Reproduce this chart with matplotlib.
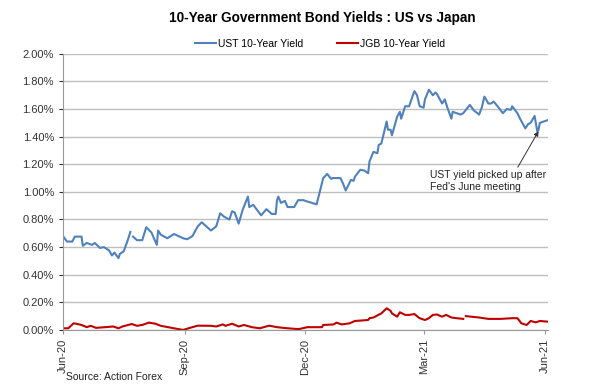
import numpy as np
import pandas as pd
import matplotlib
matplotlib.use("Agg")
import matplotlib.pyplot as plt
import matplotlib.dates as mdates
from matplotlib.ticker import FuncFormatter

plt.rcParams['font.family'] = ['Liberation Sans', 'DejaVu Sans']

# UST 10-year yield (%)
ust_dates = ["2020-06-22", "2020-06-25", "2020-06-29", "2020-07-01", "2020-07-06", "2020-07-07",
             "2020-07-10", "2020-07-14", "2020-07-16", "2020-07-20", "2020-07-23", "2020-07-27",
             "2020-07-29", "2020-07-31", "2020-08-03", "2020-08-04", "2020-08-07", "2020-08-10",
             "2020-08-12", "2020-08-13", "2020-08-14", "2020-08-17", "2020-08-21", "2020-08-24",
             "2020-08-28", "2020-09-01", "2020-09-02", "2020-09-04", "2020-09-09", "2020-09-14",
             "2020-09-21", "2020-09-24", "2020-09-28", "2020-10-02", "2020-10-05", "2020-10-12",
             "2020-10-16", "2020-10-19", "2020-10-22", "2020-10-26", "2020-10-28", "2020-10-30",
             "2020-11-02", "2020-11-05", "2020-11-09", "2020-11-10", "2020-11-13", "2020-11-19",
             "2020-11-23", "2020-11-27", "2020-11-30", "2020-12-01", "2020-12-02", "2020-12-04",
             "2020-12-07", "2020-12-09", "2020-12-14", "2020-12-17", "2020-12-21", "2020-12-24",
             "2020-12-31", "2021-01-04", "2021-01-05", "2021-01-08", "2021-01-11", "2021-01-12",
             "2021-01-18", "2021-01-20", "2021-01-22", "2021-01-26", "2021-01-28", "2021-01-29",
             "2021-02-02", "2021-02-05", "2021-02-08", "2021-02-09", "2021-02-12", "2021-02-15",
             "2021-02-16", "2021-02-18", "2021-02-19", "2021-02-22", "2021-02-23", "2021-02-25",
             "2021-02-26", "2021-03-02", "2021-03-04", "2021-03-05", "2021-03-08", "2021-03-11",
             "2021-03-15", "2021-03-17", "2021-03-19", "2021-03-22", "2021-03-23", "2021-03-26",
             "2021-03-29", "2021-03-31", "2021-04-01", "2021-04-05", "2021-04-07", "2021-04-09",
             "2021-04-12", "2021-04-13", "2021-04-16", "2021-04-19", "2021-04-21", "2021-04-26",
             "2021-04-29", "2021-05-03", "2021-05-05", "2021-05-07", "2021-05-10", "2021-05-12",
             "2021-05-14", "2021-05-17", "2021-05-21", "2021-05-24", "2021-05-27", "2021-05-28",
             "2021-06-01", "2021-06-03", "2021-06-07", "2021-06-09", "2021-06-11", "2021-06-14",
             "2021-06-16", "2021-06-17", "2021-06-18", "2021-06-21", "2021-06-24"]
ust_values = [0.68, 0.64, 0.64, 0.676, 0.676, 0.61,
              0.63, 0.616, 0.63, 0.594, 0.60, 0.575,
              0.54, 0.56, 0.52, 0.55, 0.57, 0.65,
              0.71, np.nan, 0.676, 0.65, 0.65, 0.744,
              0.705, 0.616, 0.72, 0.69, 0.664, 0.695,
              0.664, 0.657, 0.68, 0.75, 0.78, 0.72,
              0.75, 0.845, 0.82, 0.80, 0.86, 0.85,
              0.77, 0.87, 0.966, 0.89, 0.906, 0.83,
              0.875, 0.84, 0.84, 0.94, 0.966, 0.92,
              0.935, 0.89, 0.89, 0.94, 0.94, 0.93,
              0.91, 1.06, 1.10, 1.13, 1.094, 1.10,
              1.10, 1.06, 1.01, 1.087, 1.08, 1.11,
              1.16, 1.155, 1.135, 1.22, 1.29, 1.28,
              1.34, 1.35, 1.39, 1.51, 1.45, 1.45,
              1.41, 1.546, 1.58, 1.53, 1.62, 1.62,
              1.73, 1.70, 1.62, 1.61, 1.67, 1.74,
              1.70, 1.72, 1.71, 1.64, 1.67, 1.61,
              1.53, 1.58, 1.57, 1.56, 1.57, 1.63,
              1.59, 1.56, 1.61, 1.69, 1.64, 1.64,
              1.654, 1.62, 1.57, 1.60, 1.594, 1.62,
              1.57, 1.53, 1.46, 1.49, 1.50, 1.55,
              1.44, 1.45, 1.50, 1.51, 1.52]

# JGB 10-year yield (%)
jgb_dates = ["2020-06-22", "2020-06-26", "2020-06-30", "2020-07-02", "2020-07-06", "2020-07-10",
             "2020-07-13", "2020-07-17", "2020-07-24", "2020-07-30", "2020-08-03", "2020-08-06",
             "2020-08-13", "2020-08-17", "2020-08-21", "2020-08-26", "2020-08-31", "2020-09-04",
             "2020-09-14", "2020-09-21", "2020-09-25", "2020-10-02", "2020-10-12", "2020-10-16",
             "2020-10-21", "2020-10-23", "2020-10-28", "2020-11-02", "2020-11-06", "2020-11-12",
             "2020-11-18", "2020-11-25", "2020-12-01", "2020-12-09", "2020-12-16", "2020-12-18",
             "2020-12-24", "2021-01-04", "2021-01-05", "2021-01-13", "2021-01-15", "2021-01-19",
             "2021-01-25", "2021-01-29", "2021-02-08", "2021-02-09", "2021-02-12", "2021-02-18",
             "2021-02-22", "2021-02-25", "2021-02-26", "2021-03-02", "2021-03-04", "2021-03-08",
             "2021-03-11", "2021-03-15", "2021-03-19", "2021-03-23", "2021-03-26", "2021-03-29",
             "2021-04-01", "2021-04-05", "2021-04-08", "2021-04-12", "2021-04-16", "2021-04-21",
             "2021-04-22", "2021-04-23", "2021-05-03", "2021-05-10", "2021-05-19", "2021-05-28",
             "2021-06-01", "2021-06-04", "2021-06-08", "2021-06-11", "2021-06-15", "2021-06-18",
             "2021-06-24"]
jgb_values = [0.012, 0.012, 0.048, 0.045, 0.036, 0.02,
              0.03, 0.015, 0.02, 0.025, 0.012, 0.025,
              0.043, 0.03, 0.036, 0.053, 0.045, 0.03,
              0.012, 0.0, 0.012, 0.031, 0.03, 0.025,
              0.04, 0.03, 0.045, 0.025, 0.036, 0.02,
              0.012, 0.031, 0.02, 0.012, 0.007, 0.007,
              0.02, 0.02, 0.036, 0.04, 0.053, 0.04,
              0.048, 0.065, 0.072, 0.085, 0.09, 0.12,
              0.157, 0.138, 0.12, 0.096, 0.128, 0.109,
              0.109, 0.115, 0.085, 0.072, 0.085, 0.109,
              0.112, 0.096, 0.109, 0.09, 0.085, 0.08,
              np.nan, 0.10, 0.09, 0.08, 0.08, 0.085,
              0.085, 0.048, 0.036, 0.065, 0.055, 0.065,
              0.06]

tick_dates = ["2020-06-22", "2020-09-22", "2020-12-22", "2021-03-22", "2021-06-22"]
y_ticks = np.arange(0, 2.01, 0.2)

ust = pd.Series(ust_values, index=pd.to_datetime(ust_dates))
jgb = pd.Series(jgb_values, index=pd.to_datetime(jgb_dates))

fig = plt.figure(figsize=(6, 3.9), dpi=100)
ax = fig.add_axes([0.105, 0.154, 0.808, 0.708])

ax.plot(ust.index, ust.values, color="#4f81bd", lw=1.5, label="UST 10-Year Yield")
ax.plot(jgb.index, jgb.values, color="#c00000", lw=1.5, label="JGB 10-Year Yield")

ax.set_ylim(0, 2.0)
ax.set_xlim(pd.Timestamp("2020-06-22"), pd.Timestamp("2021-06-24"))
ax.set_yticks(y_ticks)
ax.yaxis.set_major_formatter(FuncFormatter(lambda v, p: f"{v:.2f}%"))
ax.set_xticks(pd.to_datetime(tick_dates))
ax.xaxis.set_major_formatter(mdates.DateFormatter("%b-%y"))
plt.setp(ax.get_xticklabels(), rotation=90)
ax.tick_params(axis="both", labelsize=8, colors="#333333", length=3, width=0.8)
ax.tick_params(axis="y", length=3, direction="out")
ax.tick_params(axis="x", direction="out", color="#999999")

ax.grid(axis="y", color="#bfbfbf", lw=1)
ax.set_axisbelow(True)
for s in ["top", "right"]:
    ax.spines[s].set_visible(False)
ax.spines["left"].set_color("#999999")
ax.spines["bottom"].set_color("#999999")

fig.text(0.537, 0.955, "10-Year Government Bond Yields : US vs Japan",
         ha="center", va="center", fontsize=9.8, fontweight="bold")
ax.legend(loc="lower center", bbox_to_anchor=(0.53, 1.0), ncol=2, frameon=False,
          fontsize=7.5, handlelength=2.0, handletextpad=0.15, columnspacing=3.3,
          borderaxespad=0.1)

ax.annotate("UST yield picked up after\nFed's June meeting",
            xy=(pd.Timestamp("2021-06-17"), 1.44),
            xytext=(pd.Timestamp("2021-03-27"), 1.08),
            fontsize=7.5, color="#222222", ha="left", va="center", linespacing=1.2,
            arrowprops=dict(arrowstyle="-|>", color="#333333", lw=0.7,
                            mutation_scale=7, shrinkA=0, shrinkB=0,
                            relpos=(0.74, 1.0)))

fig.text(0.11, 0.033, "Source: Action Forex", fontsize=7.5, color="#222222",
         ha="left", va="center")

fig.savefig("out.png", dpi=100)
